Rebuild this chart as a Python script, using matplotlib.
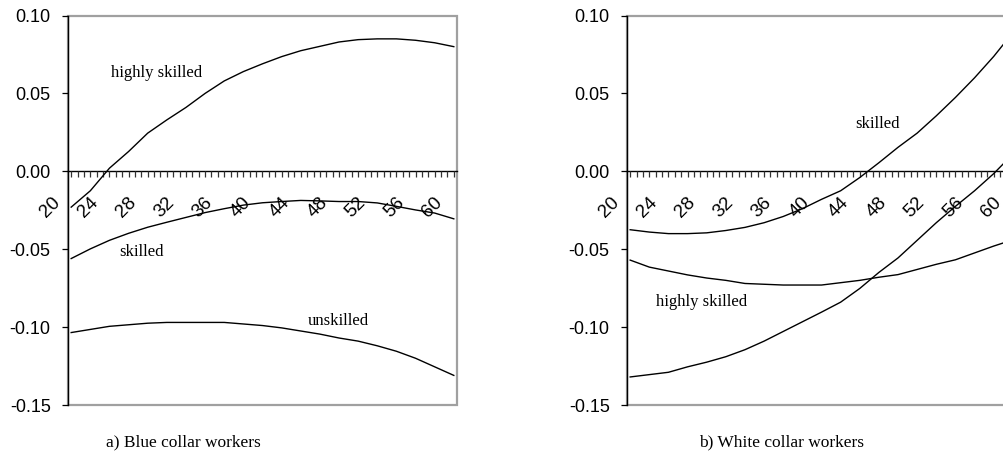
import matplotlib
matplotlib.use("Agg")
import matplotlib.pyplot as plt
from matplotlib.ticker import MultipleLocator, FixedLocator, FormatStrFormatter
import matplotlib.transforms as mtransforms

plt.rcParams['axes.unicode_minus'] = False

# ---- data ----
ages = [20, 22, 24, 26, 28, 30, 32, 34, 36, 38, 40, 42, 44, 46, 48, 50, 52, 54, 56, 58, 60]

blue_highly = [-0.023, -0.0125, 0.002, 0.0127, 0.0245, 0.033, 0.041, 0.050, 0.058, 0.064, 0.069,
               0.0736, 0.0774, 0.0802, 0.083, 0.0845, 0.085, 0.085, 0.0841, 0.0825, 0.080]
blue_skilled = [-0.056, -0.0498, -0.0443, -0.0398, -0.0359, -0.0327, -0.0296, -0.0265, -0.024, -0.0217, -0.0202,
                -0.0194, -0.0187, -0.019, -0.0194, -0.0194, -0.0203, -0.0225, -0.0248, -0.0268, -0.0305]
blue_unskilled = [-0.1035, -0.1015, -0.0995, -0.0985, -0.0975, -0.097, -0.097, -0.097, -0.097, -0.098, -0.099,
                  -0.1005, -0.1025, -0.1045, -0.107, -0.109, -0.112, -0.1155, -0.12, -0.1255, -0.131]

white_skilled = [-0.0375, -0.039, -0.040, -0.040, -0.0395, -0.038, -0.036, -0.033, -0.029, -0.024, -0.018,
                 -0.0125, -0.004, 0.0055, 0.0154, 0.0245, 0.0356, 0.0474, 0.060, 0.0737, 0.089]
white_highly = [-0.057, -0.0615, -0.064, -0.0665, -0.0685, -0.070, -0.072, -0.0725, -0.073, -0.073, -0.073,
                -0.0715, -0.070, -0.068, -0.0663, -0.063, -0.0597, -0.0568, -0.0524, -0.048, -0.044]
white_unskilled = [-0.132, -0.1305, -0.129, -0.1255, -0.1225, -0.119, -0.1145, -0.109, -0.1028, -0.0966, -0.0904,
                   -0.084, -0.0752, -0.0649, -0.0556, -0.0443, -0.033, -0.0225, -0.0125, -0.0015, 0.011]

age_labels = [20, 24, 28, 32, 36, 40, 44, 48, 52, 56, 60]
y_ticks = [-0.15, -0.10, -0.05, 0.00, 0.05, 0.10]

panel_titles = ["a) Blue collar workers", "b) White collar workers"]
blue_series_labels = [("highly skilled", 28.9, 0.0632), ("skilled", 27.3, -0.0517), ("unskilled", 47.9, -0.096)]
white_series_labels = [("skilled", 45.9, 0.0305), ("highly skilled", 27.5, -0.0841)]

# ---- figure ----
W, H = 1004, 463
fig = plt.figure(figsize=(W / 100, H / 100), dpi=100)

ax_bottom = (H - 405) / H
ax_height = 389.5 / H
ax_width = 389 / W
axL = fig.add_axes([68 / W, ax_bottom, ax_width, ax_height])
axR = fig.add_axes([627 / W, ax_bottom, ax_width, ax_height])

sans = ['Liberation Sans', 'Arial', 'DejaVu Sans']
serif = ['Liberation Serif', 'Times New Roman', 'DejaVu Serif']


def style(ax, title, title_xfrac):
    ax.set_xlim(20 - 1 / 3, 60 + 1 / 3)
    ax.set_ylim(-0.15, 0.10)
    ax.patch.set_edgecolor('#a0a0a0')
    ax.patch.set_linewidth(1.6)
    ax.spines['top'].set_visible(False)
    ax.spines['right'].set_visible(False)
    ax.spines['bottom'].set_position(('data', 0))
    ax.spines['bottom'].set_color('black')
    ax.spines['bottom'].set_linewidth(1.0)
    ax.spines['left'].set_color('black')
    ax.spines['left'].set_linewidth(1.0)
    ax.spines['bottom'].set_zorder(1)

    ax.xaxis.set_major_locator(FixedLocator(age_labels))
    ax.xaxis.set_minor_locator(MultipleLocator(2 / 3))
    ax.set_xticklabels([str(a) for a in age_labels], rotation=45, ha='right', va='top',
                       family=sans, fontsize=13.5)
    ax.tick_params(axis='x', which='both', direction='out', length=4.5, width=0.9,
                   color='#333333', pad=12)
    offset = mtransforms.ScaledTranslation(-8 / 100, 0, fig.dpi_scale_trans)
    for lab in ax.get_xticklabels():
        lab.set_transform(lab.get_transform() + offset)

    ax.yaxis.set_major_locator(FixedLocator(y_ticks))
    ax.yaxis.set_major_formatter(FormatStrFormatter('%.2f'))
    ax.tick_params(axis='y', which='major', direction='out', length=4.5, width=0.9,
                   color='black', pad=8, labelsize=13)
    for lab in ax.get_yticklabels():
        lab.set_family(sans)

    ax.text(title_xfrac, -0.095, title, transform=ax.transAxes, ha='center', va='center',
            family=serif, fontsize=12.5)


style(axL, panel_titles[0], 0.297)
style(axR, panel_titles[1], 0.398)

for series in (blue_highly, blue_skilled, blue_unskilled):
    axL.plot(ages, series, color='black', lw=1.0, solid_joinstyle='round')
for txt, x, y in blue_series_labels:
    axL.text(x, y, txt, ha='center', va='center', family=serif, fontsize=12)

for series in (white_skilled, white_highly, white_unskilled):
    axR.plot(ages, series, color='black', lw=1.0, solid_joinstyle='round')
for txt, x, y in white_series_labels:
    axR.text(x, y, txt, ha='center', va='center', family=serif, fontsize=12)

fig.savefig("out.png", dpi=100)
